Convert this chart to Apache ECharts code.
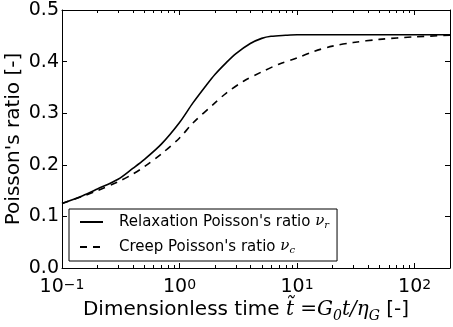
<!DOCTYPE html>
<html><head><meta charset="utf-8">
<script src="https://cdn.jsdelivr.net/npm/echarts@6/dist/echarts.min.js"></script>
<style>html,body{margin:0;padding:0;background:#fff}#c{width:453px;height:327px}</style>
</head><body><div id="c"></div>
<script>
// Dimensionless time values and Poisson's ratios
const relaxT = [0.1, 0.15, 0.2, 0.3, 0.4, 0.5, 0.7, 1.0, 1.3, 1.7, 2.0, 2.5, 3.0, 4.0, 5.0, 6.0, 8.0, 10, 20, 50, 100, 200];
const relaxV = [0.125, 0.140, 0.153, 0.172, 0.193, 0.210, 0.240, 0.282, 0.320, 0.355, 0.375, 0.398, 0.415, 0.435, 0.445, 0.449, 0.451, 0.452, 0.452, 0.452, 0.452, 0.452];
const creepT = [0.1, 0.15, 0.2, 0.3, 0.4, 0.5, 0.7, 1.0, 1.3, 2.0, 2.5, 3.5, 5.0, 7.0, 10, 14, 20, 30, 50, 100, 200];
const creepV = [0.125, 0.139, 0.150, 0.167, 0.182, 0.196, 0.221, 0.252, 0.281, 0.320, 0.339, 0.362, 0.380, 0.395, 0.407, 0.420, 0.430, 0.437, 0.443, 0.448, 0.451];
const minorTicksX = [0.2,0.3,0.4,0.5,0.6,0.7,0.8,0.9,2,3,4,5,6,7,8,9,20,30,40,50,60,70,80,90,200];
const seriesNames = ['Relaxation', 'Creep'];

const chart = echarts.init(document.getElementById('c'), null, {renderer: 'canvas'});
const zip = (a, b) => a.map((v, i) => [v, b[i]]);
const FONT = 'DejaVu Sans';
const SERIF = 'DejaVu Serif';

const supRich = {
  b: {fontFamily: FONT, fontSize: 19, color: '#000', lineHeight: 19, verticalAlign: 'bottom'},
  s: {fontFamily: FONT, fontSize: 14, color: '#000', lineHeight: 12, verticalAlign: 'top', padding: [0, 0, 12, 0]}
};
const boxLine = {show: true, onZero: false, lineStyle: {color: '#000', width: 1}};
const majTick = {show: true, inside: true, length: 5, lineStyle: {color: '#000', width: 1}};

const option = {
  animation: false,
  backgroundColor: '#fff',
  grid: {left: 62, right: 3, top: 10, bottom: 59, containLabel: false, outerBoundsMode: 'none'},
  xAxis: [{
    type: 'log', logBase: 10, min: 0.1, max: 200, position: 'bottom',
    axisLine: boxLine, axisTick: majTick, splitLine: {show: false},
    axisLabel: {
      show: true, margin: 10, showMaxLabel: false, hideOverlap: false,
      formatter: v => {
        const e = Math.log10(v);
        if (Math.abs(e - Math.round(e)) > 1e-6) return '';
        const r = Math.round(e);
        return '{b|10}{s|' + (r < 0 ? '\u2212' + (-r) : r) + '}';
      },
      rich: supRich
    },
    name: 'Dimensionless time {m|t\u0303 =G}{sub|0}{m|t/\u03b7}{sub|G}{n| [-]}',
    nameLocation: 'middle', nameGap: 32, nameMoveOverlap: false,
    nameTextStyle: {
      fontFamily: FONT, fontSize: 20, color: '#000', lineHeight: 20, verticalAlign: 'top',
      padding: [0, 20, 0, 0],
      rich: {
        m: {fontFamily: SERIF, fontStyle: 'italic', fontSize: 20, color: '#000', lineHeight: 20, verticalAlign: 'top'},
        sub: {fontFamily: SERIF, fontStyle: 'italic', fontSize: 14, color: '#000', lineHeight: 12, padding: [9, 0, 0, 0], verticalAlign: 'top'},
        n: {fontFamily: FONT, fontSize: 20, color: '#000', lineHeight: 20, verticalAlign: 'top'}
      }
    }
  }, {
    type: 'log', logBase: 10, min: 0.1, max: 200, position: 'top',
    axisLine: boxLine, axisTick: majTick,
    axisLabel: {show: false}, splitLine: {show: false}
  }],
  yAxis: [{
    type: 'value', min: 0, max: 0.5, interval: 0.1, position: 'left',
    axisLine: boxLine, axisTick: majTick, splitLine: {show: false},
    axisLabel: {margin: 3, fontFamily: FONT, fontSize: 19, color: '#000', hideOverlap: false,
      formatter: v => v.toFixed(1)},
    name: "Poisson's ratio [-]", nameLocation: 'middle', nameGap: 38, nameMoveOverlap: false,
    nameTextStyle: {fontFamily: FONT, fontSize: 20, color: '#000'}
  }, {
    type: 'value', min: 0, max: 0.5, interval: 0.1, position: 'right',
    axisLine: boxLine, axisTick: majTick,
    axisLabel: {show: false}, splitLine: {show: false}
  }],
  legend: {
    orient: 'vertical', left: 69, top: 209,
    padding: [5, 8, 6, 10], itemWidth: 23, itemHeight: 14, itemGap: 9,
    borderColor: '#000', borderWidth: 1, borderRadius: 0, backgroundColor: '#fff',
    selectedMode: false,
    itemStyle: {opacity: 0, color: 'rgba(0,0,0,0)', borderWidth: 0},
    data: seriesNames,
    formatter: name => name === 'Relaxation'
      ? "{g|}Relaxation Poisson's ratio {nu|\u03bd}{sub|r}"
      : "{g|}Creep Poisson's ratio {nu|\u03bd}{sub|c}",
    textStyle: {
      fontFamily: FONT, fontSize: 15, color: '#000', lineHeight: 16,
      rich: {
        g: {width: 11},
        nu: {fontFamily: SERIF, fontStyle: 'italic', fontSize: 15, color: '#000', lineHeight: 16, verticalAlign: 'top'},
        sub: {fontFamily: SERIF, fontStyle: 'italic', fontSize: 10, color: '#000', lineHeight: 10, padding: [6, 0, 0, 0], verticalAlign: 'top'}
      }
    }
  },
  series: [{
    name: 'Relaxation', type: 'line', data: zip(relaxT, relaxV),
    xAxisIndex: 0, yAxisIndex: 0, symbol: 'none', smooth: 0.3,
    lineStyle: {color: '#000', width: 1.6, type: 'solid'}, itemStyle: {color: '#000'}
  }, {
    name: 'Creep', type: 'line', data: zip(creepT, creepV),
    xAxisIndex: 0, yAxisIndex: 0, symbol: 'none', smooth: 0.3,
    lineStyle: {color: '#000', width: 1.6, type: [7, 6]}, itemStyle: {color: '#000'}
  }, {
    type: 'custom', silent: true, clip: false, xAxisIndex: 0, yAxisIndex: 0, z: 10,
    data: minorTicksX.map(v => [v, 0]),
    encode: {x: 0, y: 1},
    renderItem: (params, api) => {
      const x = api.value(0);
      const b = api.coord([x, 0]);
      const t = api.coord([x, 0.5]);
      const xx = Math.round(b[0]) + 0.5;
      const st = {stroke: '#000', lineWidth: 1};
      return {type: 'group', children: [
        {type: 'line', shape: {x1: xx, y1: b[1], x2: xx, y2: b[1] - 3}, style: st},
        {type: 'line', shape: {x1: xx, y1: t[1], x2: xx, y2: t[1] + 3}, style: st}
      ]};
    }
  }]
};
chart.setOption(option);
</script>
</body></html>
